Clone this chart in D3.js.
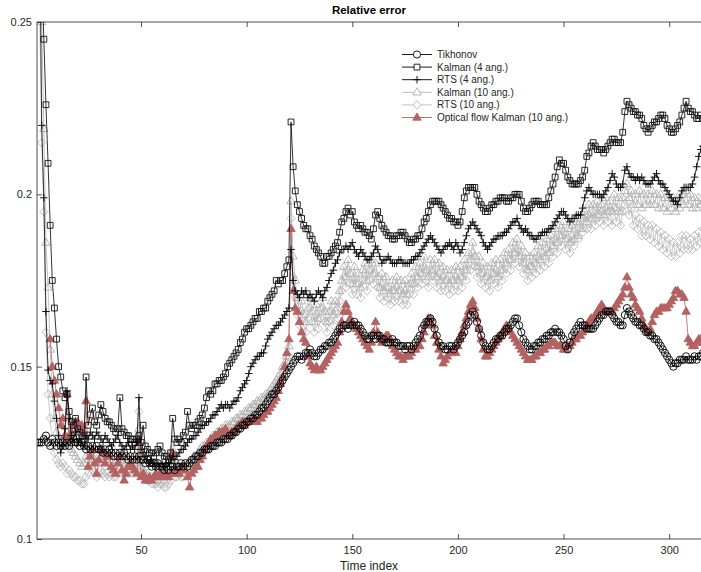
<!DOCTYPE html>
<html>
<head>
<meta charset="utf-8">
<script src="https://cdn.jsdelivr.net/npm/d3@7"></script>
<style>
  body { margin: 0; background: #fff; }
  svg { font-family: "Liberation Sans", Arial, sans-serif; }
</style>
</head>
<body>
<div id="chart"></div>
<script>
// relative error per time index (1..316)
const tikhonov = [
  0.128,0.128,0.128,0.129,0.130,0.128,0.127,0.129,0.128,0.127,
  0.128,0.127,0.128,0.127,0.128,0.127,0.128,0.129,0.128,0.128,
  0.127,0.128,0.127,0.126,0.127,0.126,0.127,0.126,0.127,0.126,
  0.126,0.125,0.126,0.125,0.126,0.125,0.124,0.125,0.124,0.125,
  0.124,0.125,0.124,0.123,0.124,0.123,0.124,0.123,0.124,0.123,
  0.123,0.122,0.123,0.122,0.121,0.122,0.121,0.122,0.121,0.121,
  0.120,0.121,0.120,0.121,0.121,0.120,0.121,0.121,0.122,0.121,
  0.122,0.121,0.122,0.123,0.123,0.124,0.124,0.125,0.125,0.126,
  0.126,0.126,0.127,0.127,0.127,0.128,0.128,0.128,0.129,0.129,
  0.129,0.130,0.130,0.131,0.131,0.132,0.132,0.133,0.133,0.134,
  0.134,0.135,0.135,0.136,0.136,0.137,0.138,0.138,0.139,0.140,
  0.141,0.142,0.142,0.143,0.144,0.145,0.146,0.147,0.148,0.149,
  0.150,0.151,0.152,0.153,0.153,0.152,0.153,0.154,0.154,0.155,
  0.154,0.153,0.153,0.154,0.155,0.155,0.156,0.156,0.157,0.157,
  0.158,0.159,0.160,0.161,0.161,0.162,0.162,0.161,0.162,0.162,
  0.163,0.162,0.162,0.161,0.160,0.159,0.158,0.158,0.159,0.159,
  0.158,0.159,0.159,0.158,0.158,0.157,0.157,0.157,0.158,0.157,
  0.157,0.156,0.156,0.156,0.155,0.156,0.156,0.155,0.156,0.157,
  0.158,0.159,0.161,0.162,0.163,0.163,0.164,0.163,0.161,0.159,
  0.157,0.156,0.156,0.155,0.155,0.156,0.156,0.155,0.156,0.157,
  0.158,0.159,0.160,0.162,0.163,0.165,0.166,0.165,0.163,0.161,
  0.159,0.157,0.156,0.155,0.155,0.156,0.157,0.158,0.158,0.159,
  0.159,0.160,0.161,0.161,0.162,0.163,0.164,0.164,0.162,0.160,
  0.158,0.157,0.156,0.155,0.155,0.156,0.156,0.157,0.157,0.158,
  0.158,0.159,0.159,0.160,0.160,0.161,0.160,0.160,0.159,0.158,
  0.156,0.155,0.157,0.159,0.160,0.161,0.162,0.163,0.162,0.162,
  0.161,0.161,0.161,0.161,0.162,0.163,0.164,0.165,0.165,0.166,
  0.166,0.166,0.165,0.164,0.163,0.163,0.162,0.162,0.165,0.167,
  0.166,0.165,0.164,0.163,0.163,0.162,0.162,0.161,0.160,0.160,
  0.159,0.159,0.158,0.158,0.157,0.156,0.155,0.154,0.153,0.152,
  0.151,0.150,0.151,0.151,0.152,0.152,0.152,0.153,0.152,0.152,
  0.152,0.153,0.152,0.153,0.153,0.154
];
const kalman4 = [
  0.310,0.290,0.265,0.245,0.226,0.209,0.191,0.175,0.167,0.158,
  0.150,0.147,0.143,0.141,0.142,0.137,0.134,0.133,0.135,0.132,
  0.131,0.130,0.129,0.147,0.133,0.136,0.138,0.134,0.133,0.136,
  0.139,0.137,0.135,0.134,0.134,0.133,0.132,0.131,0.132,0.141,
  0.132,0.131,0.130,0.130,0.129,0.129,0.128,0.129,0.130,0.128,
  0.133,0.127,0.126,0.125,0.125,0.124,0.125,0.126,0.127,0.125,
  0.124,0.124,0.123,0.125,0.135,0.129,0.128,0.129,0.128,0.130,
  0.131,0.137,0.133,0.132,0.133,0.133,0.134,0.135,0.136,0.138,
  0.141,0.143,0.142,0.143,0.145,0.145,0.146,0.146,0.147,0.148,
  0.150,0.151,0.152,0.153,0.154,0.155,0.157,0.158,0.160,0.161,
  0.161,0.162,0.163,0.164,0.164,0.166,0.166,0.167,0.167,0.169,
  0.170,0.171,0.172,0.175,0.174,0.175,0.175,0.177,0.179,0.181,
  0.221,0.208,0.201,0.197,0.195,0.193,0.191,0.190,0.190,0.188,
  0.187,0.185,0.184,0.183,0.182,0.180,0.180,0.182,0.182,0.183,
  0.184,0.185,0.186,0.189,0.192,0.193,0.195,0.196,0.194,0.195,
  0.192,0.191,0.190,0.191,0.190,0.189,0.189,0.188,0.187,0.190,
  0.194,0.195,0.193,0.191,0.190,0.189,0.188,0.188,0.187,0.187,
  0.188,0.188,0.189,0.189,0.188,0.187,0.186,0.186,0.187,0.187,
  0.188,0.188,0.190,0.192,0.193,0.195,0.197,0.198,0.198,0.198,
  0.198,0.197,0.196,0.195,0.194,0.193,0.193,0.192,0.192,0.191,
  0.192,0.195,0.199,0.201,0.202,0.202,0.202,0.202,0.200,0.198,
  0.197,0.196,0.195,0.195,0.196,0.197,0.197,0.198,0.198,0.199,
  0.199,0.199,0.198,0.198,0.199,0.199,0.200,0.200,0.200,0.198,
  0.196,0.195,0.195,0.196,0.197,0.198,0.198,0.198,0.197,0.197,
  0.197,0.197,0.199,0.201,0.203,0.205,0.208,0.210,0.209,0.209,
  0.207,0.205,0.204,0.203,0.203,0.203,0.203,0.204,0.205,0.207,
  0.211,0.212,0.214,0.215,0.214,0.213,0.213,0.213,0.212,0.213,
  0.214,0.215,0.216,0.216,0.215,0.215,0.215,0.218,0.224,0.227,
  0.226,0.225,0.224,0.224,0.223,0.223,0.222,0.220,0.219,0.218,
  0.219,0.220,0.221,0.221,0.222,0.223,0.223,0.222,0.220,0.219,
  0.218,0.218,0.219,0.220,0.221,0.223,0.225,0.227,0.225,0.224,
  0.224,0.223,0.222,0.222,0.223,0.222
];
const rts4 = [
  0.320,0.280,0.220,0.199,0.166,0.149,0.146,0.145,0.140,0.135,
  0.130,0.125,0.127,0.132,0.143,0.135,0.130,0.129,0.131,0.128,
  0.129,0.128,0.127,0.130,0.129,0.131,0.130,0.129,0.131,0.130,
  0.129,0.128,0.130,0.129,0.128,0.127,0.128,0.129,0.130,0.128,
  0.127,0.126,0.127,0.128,0.126,0.127,0.126,0.128,0.141,0.126,
  0.125,0.124,0.123,0.122,0.123,0.122,0.121,0.122,0.121,0.122,
  0.121,0.122,0.122,0.123,0.124,0.123,0.124,0.125,0.126,0.126,
  0.127,0.128,0.129,0.129,0.130,0.130,0.131,0.132,0.133,0.133,
  0.134,0.134,0.135,0.136,0.136,0.137,0.138,0.139,0.138,0.139,
  0.139,0.138,0.139,0.140,0.140,0.141,0.143,0.144,0.145,0.146,
  0.148,0.150,0.151,0.152,0.153,0.153,0.154,0.154,0.156,0.158,
  0.159,0.160,0.161,0.162,0.162,0.163,0.164,0.165,0.166,0.167,
  0.184,0.175,0.172,0.171,0.170,0.172,0.171,0.172,0.170,0.171,
  0.170,0.169,0.171,0.172,0.171,0.170,0.172,0.173,0.175,0.177,
  0.178,0.180,0.181,0.183,0.184,0.184,0.185,0.184,0.185,0.186,
  0.184,0.183,0.182,0.184,0.183,0.182,0.181,0.181,0.182,0.183,
  0.185,0.184,0.182,0.180,0.181,0.181,0.182,0.181,0.180,0.180,
  0.180,0.181,0.181,0.180,0.180,0.180,0.180,0.181,0.181,0.182,
  0.182,0.183,0.184,0.185,0.186,0.187,0.188,0.187,0.186,0.185,
  0.184,0.183,0.184,0.185,0.185,0.186,0.185,0.184,0.186,0.185,
  0.183,0.184,0.186,0.188,0.190,0.191,0.192,0.191,0.190,0.189,
  0.188,0.186,0.185,0.184,0.185,0.186,0.187,0.187,0.188,0.188,
  0.188,0.189,0.189,0.190,0.191,0.192,0.192,0.193,0.191,0.190,
  0.189,0.190,0.189,0.188,0.188,0.187,0.187,0.188,0.188,0.189,
  0.189,0.189,0.190,0.190,0.191,0.192,0.193,0.194,0.195,0.195,
  0.194,0.193,0.192,0.193,0.193,0.194,0.194,0.194,0.196,0.199,
  0.201,0.202,0.201,0.200,0.200,0.200,0.200,0.199,0.200,0.201,
  0.202,0.204,0.206,0.205,0.203,0.202,0.202,0.203,0.207,0.208,
  0.206,0.205,0.205,0.204,0.205,0.204,0.205,0.204,0.203,0.203,
  0.203,0.204,0.205,0.206,0.204,0.203,0.203,0.202,0.201,0.200,
  0.199,0.198,0.198,0.197,0.199,0.201,0.202,0.202,0.202,0.202,
  0.203,0.205,0.208,0.211,0.213,0.214
];
const kalman10 = [
  0.310,0.280,0.250,0.219,0.186,0.173,0.155,0.142,0.135,0.131,
  0.129,0.128,0.127,0.129,0.131,0.128,0.126,0.125,0.124,0.123,
  0.122,0.121,0.122,0.124,0.123,0.125,0.124,0.123,0.122,0.124,
  0.123,0.122,0.121,0.122,0.123,0.122,0.121,0.122,0.121,0.123,
  0.122,0.121,0.122,0.121,0.122,0.121,0.122,0.123,0.132,0.121,
  0.120,0.119,0.119,0.118,0.118,0.117,0.118,0.117,0.118,0.118,
  0.117,0.118,0.118,0.119,0.126,0.120,0.120,0.121,0.121,0.121,
  0.121,0.122,0.122,0.123,0.124,0.124,0.125,0.126,0.127,0.127,
  0.128,0.128,0.129,0.130,0.130,0.131,0.131,0.132,0.132,0.133,
  0.133,0.133,0.134,0.134,0.135,0.135,0.136,0.136,0.137,0.137,
  0.138,0.138,0.139,0.139,0.140,0.140,0.141,0.141,0.142,0.142,
  0.143,0.144,0.145,0.146,0.147,0.148,0.150,0.151,0.153,0.156,
  0.198,0.182,0.175,0.170,0.166,0.169,0.165,0.163,0.167,0.170,
  0.166,0.163,0.168,0.164,0.167,0.170,0.166,0.163,0.166,0.169,
  0.165,0.169,0.167,0.172,0.175,0.179,0.176,0.181,0.177,0.174,
  0.179,0.174,0.177,0.173,0.178,0.180,0.175,0.178,0.181,0.177,
  0.180,0.176,0.173,0.177,0.172,0.176,0.173,0.171,0.175,0.172,
  0.176,0.172,0.175,0.171,0.175,0.171,0.174,0.177,0.174,0.179,
  0.176,0.180,0.177,0.182,0.178,0.176,0.181,0.178,0.181,0.176,
  0.180,0.175,0.179,0.175,0.178,0.174,0.178,0.175,0.179,0.175,
  0.179,0.176,0.181,0.178,0.183,0.181,0.186,0.182,0.179,0.182,
  0.177,0.180,0.176,0.179,0.175,0.180,0.177,0.181,0.176,0.181,
  0.178,0.183,0.180,0.184,0.181,0.186,0.183,0.187,0.182,0.185,
  0.180,0.183,0.178,0.182,0.179,0.183,0.180,0.185,0.181,0.186,
  0.182,0.187,0.183,0.188,0.185,0.190,0.186,0.191,0.188,0.192,
  0.187,0.190,0.186,0.191,0.187,0.192,0.188,0.193,0.190,0.195,
  0.192,0.197,0.193,0.197,0.193,0.198,0.194,0.197,0.194,0.199,
  0.195,0.198,0.195,0.200,0.196,0.199,0.195,0.199,0.201,0.203,
  0.199,0.201,0.197,0.200,0.197,0.201,0.196,0.200,0.197,0.200,
  0.197,0.201,0.197,0.200,0.196,0.200,0.196,0.199,0.195,0.199,
  0.196,0.199,0.195,0.199,0.196,0.200,0.197,0.201,0.197,0.200,
  0.196,0.199,0.196,0.199,0.197,0.198
];
const rts10 = [
  0.300,0.255,0.215,0.195,0.160,0.142,0.135,0.127,0.125,0.123,
  0.122,0.121,0.122,0.121,0.119,0.120,0.119,0.118,0.118,0.117,
  0.117,0.116,0.116,0.118,0.119,0.121,0.120,0.119,0.118,0.119,
  0.120,0.119,0.118,0.119,0.118,0.119,0.118,0.118,0.119,0.120,
  0.119,0.119,0.120,0.119,0.120,0.119,0.120,0.121,0.137,0.120,
  0.119,0.118,0.117,0.117,0.116,0.116,0.116,0.115,0.116,0.116,
  0.115,0.115,0.116,0.117,0.125,0.118,0.118,0.119,0.118,0.118,
  0.119,0.120,0.120,0.121,0.122,0.122,0.123,0.124,0.124,0.125,
  0.126,0.126,0.127,0.127,0.128,0.128,0.129,0.129,0.130,0.130,
  0.131,0.131,0.132,0.132,0.133,0.133,0.134,0.134,0.135,0.135,
  0.136,0.136,0.137,0.137,0.138,0.138,0.139,0.140,0.140,0.141,
  0.141,0.142,0.143,0.144,0.145,0.146,0.148,0.149,0.151,0.153,
  0.193,0.176,0.170,0.165,0.162,0.166,0.162,0.160,0.164,0.167,
  0.163,0.160,0.165,0.161,0.164,0.167,0.163,0.160,0.163,0.166,
  0.162,0.166,0.164,0.169,0.172,0.176,0.173,0.178,0.174,0.171,
  0.176,0.171,0.174,0.170,0.175,0.177,0.172,0.175,0.178,0.174,
  0.177,0.173,0.170,0.174,0.169,0.173,0.170,0.168,0.172,0.169,
  0.173,0.169,0.172,0.168,0.172,0.168,0.171,0.174,0.171,0.176,
  0.173,0.177,0.174,0.179,0.175,0.173,0.178,0.175,0.178,0.173,
  0.177,0.172,0.176,0.172,0.175,0.171,0.175,0.172,0.176,0.172,
  0.176,0.173,0.178,0.175,0.180,0.178,0.183,0.179,0.176,0.179,
  0.174,0.177,0.173,0.176,0.172,0.177,0.174,0.178,0.173,0.178,
  0.175,0.180,0.177,0.181,0.178,0.183,0.180,0.184,0.179,0.182,
  0.177,0.180,0.175,0.179,0.176,0.180,0.177,0.182,0.178,0.183,
  0.179,0.184,0.180,0.185,0.182,0.187,0.183,0.188,0.185,0.189,
  0.184,0.187,0.183,0.188,0.185,0.190,0.187,0.192,0.189,0.194,
  0.190,0.194,0.190,0.195,0.191,0.196,0.192,0.195,0.191,0.196,
  0.192,0.195,0.191,0.196,0.192,0.195,0.191,0.195,0.197,0.198,
  0.194,0.196,0.191,0.194,0.190,0.193,0.188,0.192,0.188,0.191,
  0.187,0.191,0.186,0.190,0.185,0.189,0.184,0.188,0.183,0.187,
  0.182,0.186,0.182,0.186,0.183,0.188,0.184,0.188,0.184,0.187,
  0.184,0.188,0.185,0.189,0.186,0.190
];
const opticalFlow = [
  null,null,null,null,null,null,0.158,0.150,0.146,0.142,
  0.138,0.133,0.135,0.130,0.142,0.129,0.131,0.133,0.134,0.134,
  0.132,0.133,0.131,0.140,0.121,0.124,0.126,0.122,0.119,0.123,
  0.126,0.125,0.122,0.124,0.124,0.121,0.120,0.119,0.122,0.124,
  0.120,0.117,0.119,0.121,0.122,0.121,0.120,0.119,0.128,0.118,
  0.119,0.117,0.117,0.118,0.117,0.118,0.119,0.118,0.119,0.118,
  0.119,0.119,0.118,0.119,0.125,0.119,0.119,0.119,0.120,0.121,
  0.120,0.118,0.115,0.119,0.120,0.121,0.121,0.123,0.124,0.126,
  0.127,0.128,0.129,0.129,0.130,0.130,0.131,0.131,0.131,0.132,
  0.130,0.130,0.131,0.131,0.132,0.133,0.133,0.134,0.133,0.134,
  0.134,0.134,0.134,0.135,0.134,0.135,0.135,0.136,0.137,0.137,
  0.138,0.139,0.140,0.141,0.143,0.145,0.147,0.150,0.154,0.158,
  0.190,0.172,0.167,0.166,0.163,0.160,0.158,0.157,0.153,0.151,
  0.150,0.149,0.150,0.149,0.149,0.150,0.151,0.152,0.153,0.154,
  0.155,0.156,0.157,0.160,0.163,0.166,0.168,0.166,0.164,0.163,
  0.162,0.161,0.160,0.159,0.158,0.157,0.156,0.155,0.157,0.160,
  0.163,0.160,0.158,0.157,0.158,0.159,0.159,0.158,0.156,0.155,
  0.154,0.153,0.153,0.152,0.153,0.153,0.153,0.154,0.155,0.155,
  0.156,0.156,0.158,0.160,0.162,0.164,0.164,0.162,0.159,0.157,
  0.155,0.153,0.151,0.152,0.153,0.154,0.154,0.155,0.154,0.156,
  0.158,0.160,0.162,0.164,0.166,0.168,0.169,0.167,0.164,0.161,
  0.158,0.155,0.153,0.153,0.154,0.155,0.156,0.157,0.158,0.159,
  0.160,0.161,0.162,0.161,0.160,0.159,0.158,0.157,0.156,0.155,
  0.154,0.153,0.152,0.152,0.152,0.153,0.153,0.154,0.154,0.155,
  0.155,0.156,0.156,0.157,0.157,0.157,0.156,0.156,0.156,0.155,
  0.155,0.156,0.156,0.157,0.158,0.158,0.159,0.159,0.160,0.161,
  0.162,0.163,0.164,0.164,0.165,0.166,0.167,0.168,0.167,0.166,
  0.166,0.166,0.166,0.167,0.168,0.169,0.170,0.171,0.173,0.176,
  0.173,0.171,0.170,0.168,0.167,0.166,0.164,0.162,0.161,0.160,
  0.161,0.163,0.165,0.166,0.166,0.167,0.167,0.167,0.167,0.168,
  0.169,0.170,0.172,0.172,0.171,0.171,0.170,0.166,0.158,0.157,
  0.156,0.156,0.157,0.158,0.158,0.157
];

const seriesNames = ["Tikhonov", "Kalman (4 ang.)", "RTS (4 ang.)",
  "Kalman (10 ang.)", "RTS (10 ang.)", "Optical flow Kalman (10 ang.)"];
const xTicks = [50, 100, 150, 200, 250, 300];
const yTicks = [0.1, 0.15, 0.2, 0.25];

const width = 701, height = 572;
const plot = {left: 37, top: 22, bottom: 539, right: 703};

const xScale = d3.scaleLinear().domain([1, 316]).range([37.5, 703]);
const yScale = d3.scaleLinear().domain([0.1, 0.25]).range([plot.bottom, plot.top]);

// marker shapes centred on 0,0
function markerPath(type) {
  switch (type) {
    case "circle": return "M-3.6,0a3.6,3.6 0 1,0 7.2,0a3.6,3.6 0 1,0 -7.2,0";
    case "square": return "M-2.9,-2.9h5.8v5.8h-5.8Z";
    case "plus": return "M-3.8,0H3.8M0,-3.8V3.8";
    case "triangle": return "M0,-4.6L4.2,2.7L-4.2,2.7Z";
    case "diamond": return "M0,-4.3L4,0L0,4.3L-4,0Z";
  }
}

const series = [
  {name: seriesNames[0], values: tikhonov, marker: "circle", line: "#000", stroke: "#000", fill: "none"},
  {name: seriesNames[1], values: kalman4, marker: "square", line: "#000", stroke: "#111", fill: "none"},
  {name: seriesNames[2], values: rts4, marker: "plus", line: "#000", stroke: "#000", fill: "none"},
  {name: seriesNames[3], values: kalman10, marker: "triangle", line: "#b4b4b4", stroke: "#b0b0b0", fill: "none"},
  {name: seriesNames[4], values: rts10, marker: "diamond", line: "#bdbdbd", stroke: "#b8b8b8", fill: "none"},
  {name: seriesNames[5], values: opticalFlow, marker: "triangle", line: "#b36262", stroke: "#b36262", fill: "#b36262"}
];
// drawing order: grey first, red, then black on top
const drawOrder = [3, 4, 5, 1, 2, 0];

const svg = d3.select("#chart")
  .append("svg")
  .attr("width", width)
  .attr("height", height);

svg.append("defs").append("clipPath").attr("id", "clip")
  .append("rect")
  .attr("x", plot.left).attr("y", plot.top)
  .attr("width", plot.right - plot.left).attr("height", plot.bottom - plot.top);

const line = d3.line()
  .defined(function (d) { return d != null; })
  .x(function (d, i) { return xScale(i + 1); })
  .y(function (d) { return yScale(d); });

const marks = svg.append("g").attr("clip-path", "url(#clip)");

drawOrder.forEach(function (k) {
  const s = series[k];
  const g = marks.append("g");
  g.append("path")
    .datum(s.values)
    .attr("d", line)
    .attr("fill", "none")
    .attr("stroke", s.line)
    .attr("stroke-width", 0.8);
  g.selectAll("path.mk")
      .data(s.values.map(function (v, i) { return {t: i + 1, v: v}; })
        .filter(function (d) { return d.v != null; }))
    .enter().append("path")
      .attr("class", "mk")
      .attr("d", markerPath(s.marker))
      .attr("transform", function (d) { return "translate(" + xScale(d.t) + "," + yScale(d.v) + ")"; })
      .attr("fill", s.fill)
      .attr("stroke", s.stroke)
      .attr("stroke-width", 0.9);
});

// axes, MATLAB style box with inward ticks
const axisColor = "#262626";

const xAxis = svg.append("g")
  .attr("transform", "translate(0," + plot.bottom + ")")
  .call(d3.axisBottom(xScale).tickValues(xTicks).tickSizeInner(-5).tickSizeOuter(0).tickPadding(7));
const xAxisTop = svg.append("g")
  .attr("transform", "translate(0," + plot.top + ")")
  .call(d3.axisTop(xScale).tickValues(xTicks).tickSizeInner(-5).tickSizeOuter(0).tickFormat(""));
const yAxis = svg.append("g")
  .attr("transform", "translate(" + plot.left + ",0)")
  .call(d3.axisLeft(yScale).tickValues(yTicks).tickSizeInner(-5).tickSizeOuter(0).tickPadding(5)
    .tickFormat(function (d) { return String(+d.toFixed(2)); }));

[xAxis, xAxisTop, yAxis].forEach(function (a) {
  a.select(".domain").remove();
  a.selectAll("line").attr("stroke", axisColor).attr("stroke-width", 0.8);
  a.selectAll("text").attr("fill", axisColor).style("font-size", "11px");
});

svg.append("rect")
  .attr("x", plot.left).attr("y", plot.top)
  .attr("width", plot.right - plot.left).attr("height", plot.bottom - plot.top)
  .attr("fill", "none")
  .attr("stroke", axisColor)
  .attr("stroke-width", 0.8);

svg.append("text")
  .attr("x", 369).attr("y", 14)
  .attr("text-anchor", "middle")
  .attr("fill", "#000")
  .style("font-size", "11.5px")
  .style("font-weight", "bold")
  .text("Relative error");

svg.append("text")
  .attr("x", 369).attr("y", 570)
  .attr("text-anchor", "middle")
  .attr("fill", axisColor)
  .style("font-size", "12px")
  .text("Time index");

// legend (no box)
const legend = svg.append("g").attr("transform", "translate(402,54.5)");
series.forEach(function (s, i) {
  const row = legend.append("g").attr("transform", "translate(0," + (i * 12.6) + ")");
  row.append("line")
    .attr("x1", 0).attr("x2", 30)
    .attr("stroke", s.line).attr("stroke-width", 0.9);
  row.append("path")
    .attr("d", markerPath(s.marker))
    .attr("transform", "translate(15,0)")
    .attr("fill", s.fill === "none" ? "#fff" : s.fill)
    .attr("stroke", s.stroke)
    .attr("stroke-width", 0.9);
  row.append("text")
    .attr("x", 35).attr("y", 3.5)
    .attr("fill", axisColor)
    .style("font-size", "10px")
    .text(s.name);
});
</script>
</body>
</html>
